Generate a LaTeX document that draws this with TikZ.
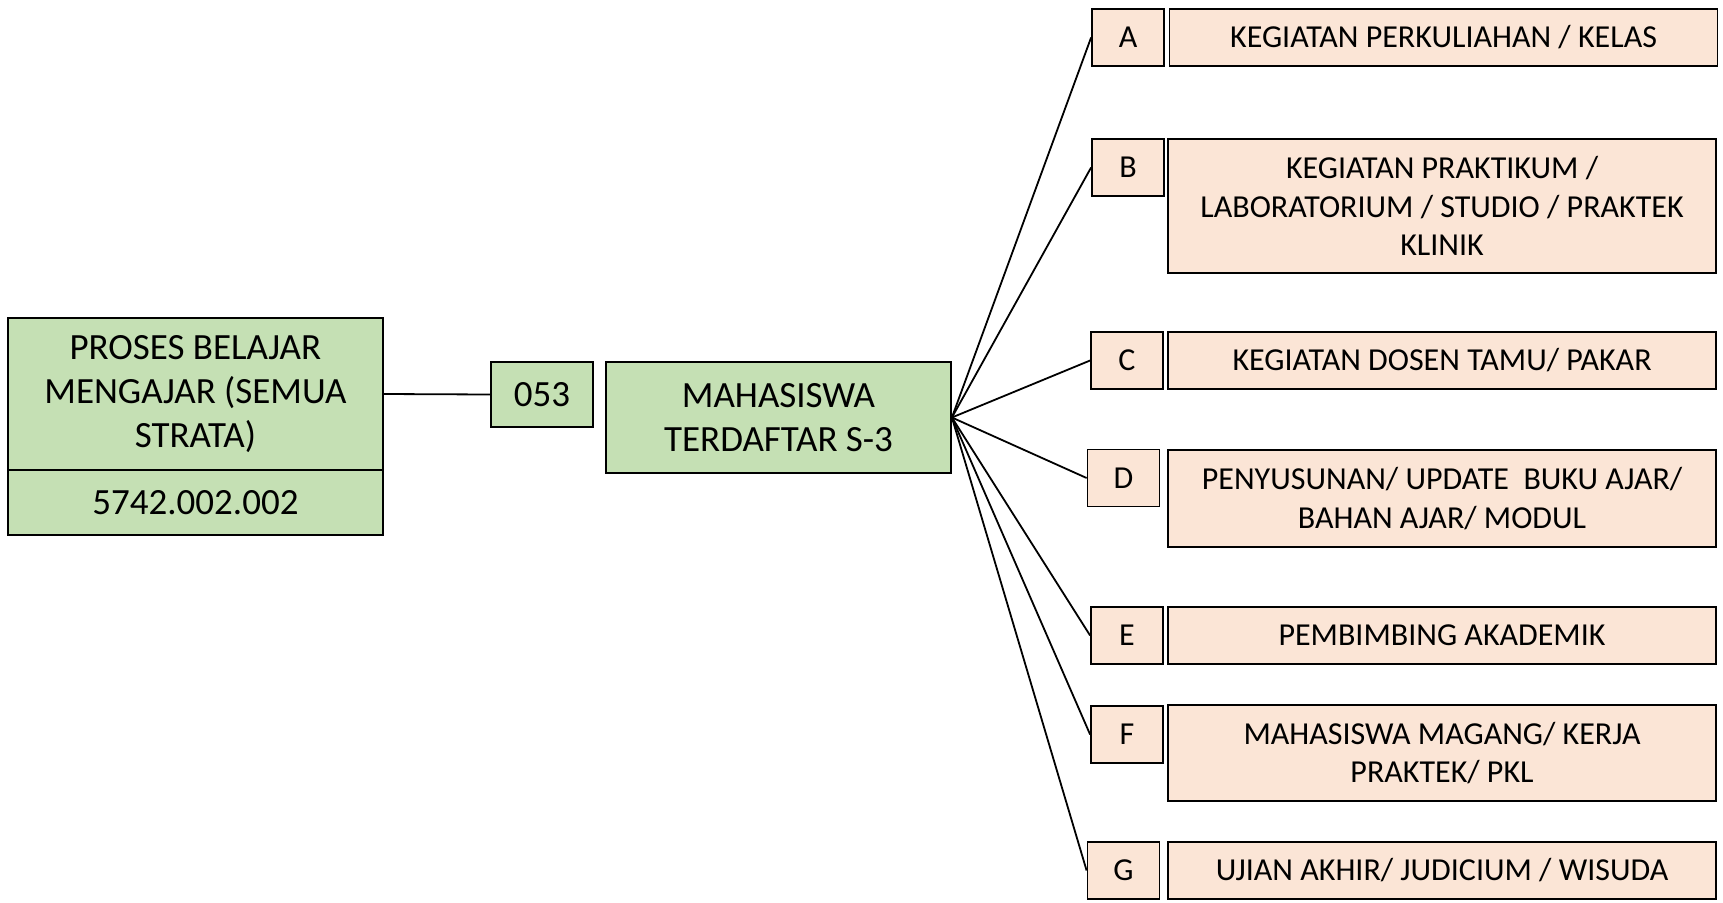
\documentclass[tikz,border=0pt]{standalone}
\usepackage{fontspec}
\setmainfont{Carlito}
\definecolor{grn}{HTML}{C5E0B4}
\definecolor{pnk}{HTML}{FBE5D6}
\begin{document}
\begin{tikzpicture}[x=1pt,y=1pt,
  box/.style={draw=black, line width=1.8pt, inner sep=0pt, align=center},
  gbox/.style={box, fill=grn, font=\fontsize{37}{44}\selectfont},
  pbox/.style={box, fill=pnk, font=\fontsize{32}{38.5}\selectfont},
  lbox/.style={pbox, minimum width=72pt, minimum height=57pt},
  tbox/.style={pbox, minimum width=548pt},
  conn/.style={draw=black, line width=1.8pt}]
\useasboundingbox (0,0) rectangle (1723,-902);
% left
\node[gbox, minimum width=375pt, minimum height=152pt] (lt) at (195.4,-394) {PROSES BELAJAR\\MENGAJAR (SEMUA\\STRATA)};
\node[gbox, minimum width=375pt, minimum height=65pt] (lb) at (195.4,-502.5) {5742.002.002};
\node[gbox, minimum width=102pt, minimum height=65pt] (code) at (542,-394.5) {053};
\node[gbox, minimum width=345pt, minimum height=111pt] (mah) at (778.5,-417.5) {MAHASISWA\\TERDAFTAR S-3};
% letters
\node[lbox] (a) at (1128,-37.5) {A};
\node[lbox] (b) at (1128,-167.5) {B};
\node[lbox] (c) at (1127,-360.5) {C};
\node[lbox] (d) at (1123.5,-478) {D};
\node[lbox] (e) at (1127,-635.5) {E};
\node[lbox] (f) at (1127,-734.5) {F};
\node[lbox] (g) at (1123.5,-870.5) {G};
% texts
\node[tbox, minimum height=57pt] (ta) at (1443.5,-37.5) {KEGIATAN PERKULIAHAN / KELAS};
\node[tbox, minimum height=134pt] (tb) at (1442,-206) {KEGIATAN PRAKTIKUM /\\LABORATORIUM / STUDIO / PRAKTEK\\KLINIK};
\node[tbox, minimum height=57pt] (tc) at (1442,-360.5) {KEGIATAN DOSEN TAMU/ PAKAR};
\node[tbox, minimum height=97pt] (td) at (1442,-498.5) {PENYUSUNAN/ UPDATE\ \ BUKU AJAR/\\BAHAN AJAR/ MODUL};
\node[tbox, minimum height=57pt] (te) at (1442,-635.5) {PEMBIMBING AKADEMIK};
\node[tbox, minimum height=96pt] (tf) at (1442,-753) {MAHASISWA MAGANG/ KERJA\\PRAKTEK/ PKL};
\node[tbox, minimum height=57pt] (tg) at (1442,-870.5) {UJIAN AKHIR/ JUDICIUM / WISUDA};
% connectors
\draw[conn] (lt.east) -- (code.west);
\foreach \n in {a,b,c,d,e,f,g} \draw[conn] (mah.east) -- (\n.west);
\end{tikzpicture}
\end{document}
